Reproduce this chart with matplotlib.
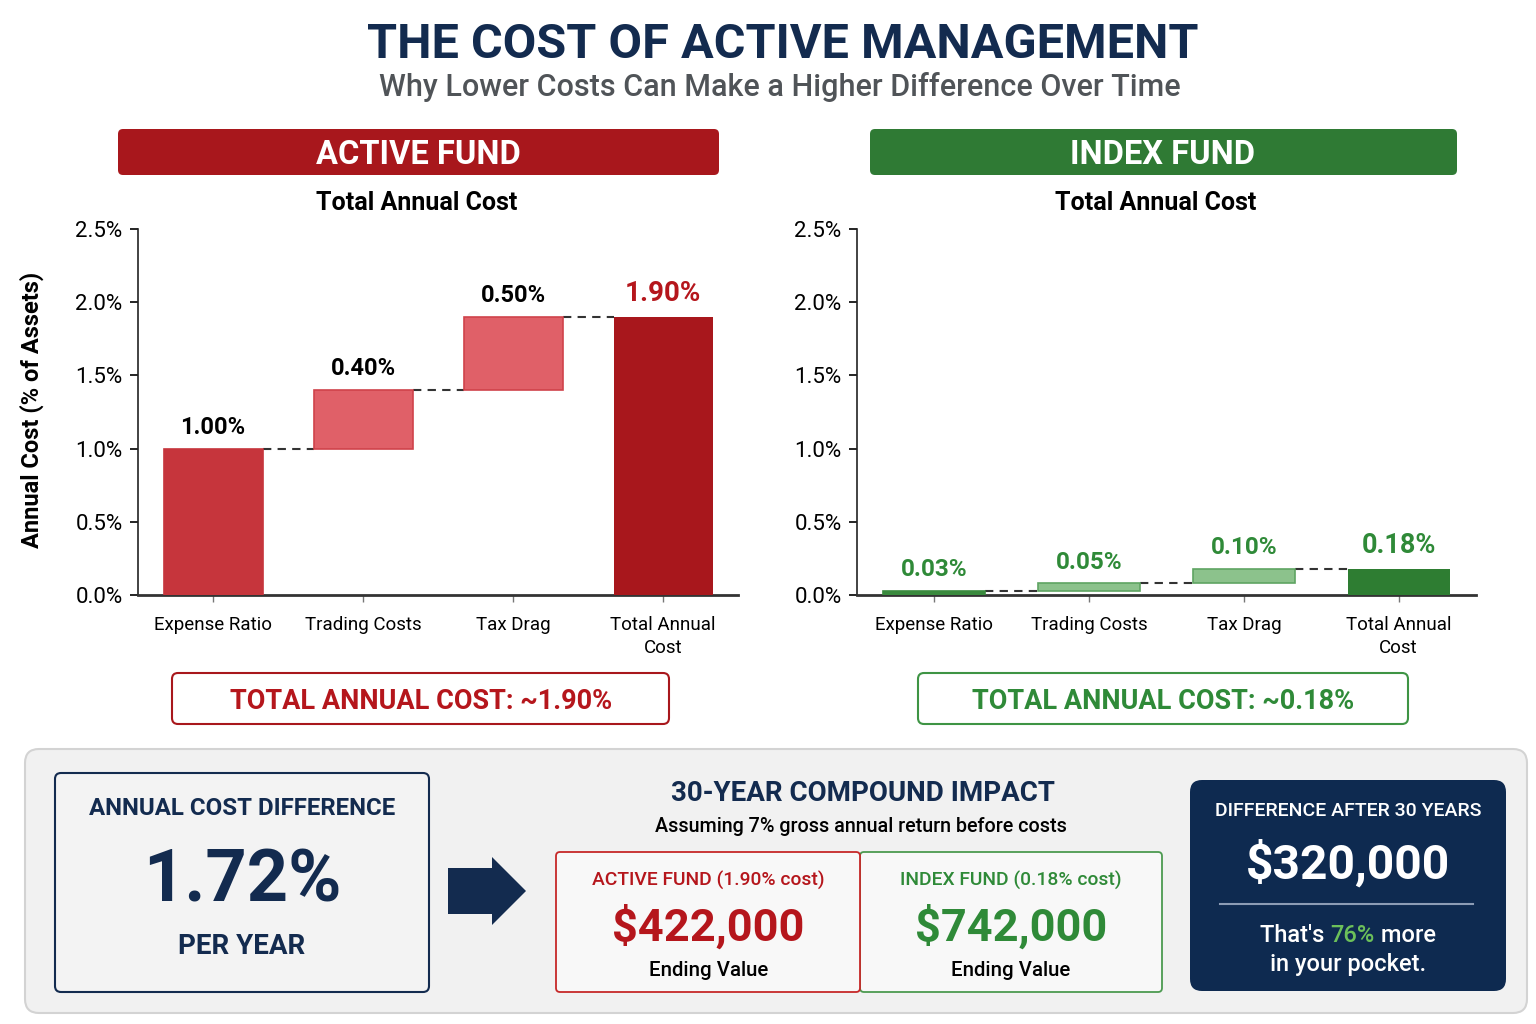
import numpy as np
import matplotlib.pyplot as plt
from matplotlib.patches import FancyBboxPatch, Polygon

plt.rcParams['font.family'] = ['Roboto', 'DejaVu Sans']

# data
categories = ["Expense Ratio", "Trading Costs", "Tax Drag", "Total Annual\nCost"]
active_steps = np.array([1.00, 0.40, 0.50])
active_total = 1.90
index_steps = np.array([0.03, 0.05, 0.10])
index_total = 0.18
yticks = [0.0, 0.5, 1.0, 1.5, 2.0, 2.5]
annual_diff = 1.72
active_end = 422000
index_end = 742000
gap_30y = 320000
pct_more = 76

NAVY = '#132B4F'
RED = '#A8171C'
RED_MID = '#C6353C'
RED_LIGHT = '#E06068'
GREEN = '#2E7D32'
GREEN_MID = '#3A8A3E'
GREEN_LIGHT = '#8CC28C'
GREEN_TXT = '#2F8A38'

W, H = 1536, 1024
fig = plt.figure(figsize=(W / 100, H / 100), dpi=100)
fig.patch.set_facecolor('white')

# overlay in pixel coordinates
bg = fig.add_axes([0, 0, 1, 1])
bg.set_xlim(0, W)
bg.set_ylim(H, 0)
bg.axis('off')


def box(x0, y0, x1, y1, fc, ec='none', lw=0, r=8):
    bg.add_patch(FancyBboxPatch((x0, y0), x1 - x0, y1 - y0,
                                boxstyle=f"round,pad=0,rounding_size={r}",
                                fc=fc, ec=ec, lw=lw))


def txt(x, y, s, size, color='black', weight='normal', **kw):
    return bg.text(x, y + 2.5, s, fontsize=size, color=color, fontweight=weight,
                   ha='center', va='center', **kw)


# title
txt(783, 42, "THE COST OF ACTIVE MANAGEMENT", 35, NAVY, 'bold')
txt(780, 85, "Why Lower Costs Can Make a Higher Difference Over Time", 22, '#505458', 'medium')

# headers
box(118, 129, 719, 175, RED, r=5)
txt(418, 152, "ACTIVE FUND", 23.5, 'white', 'bold')
box(870, 129, 1457, 175, '#2F7A34', r=5)
txt(1163, 152, "INDEX FUND", 23.5, 'white', 'bold')
txt(417, 201, "Total Annual Cost", 18, 'black', 'bold')
txt(1156, 201, "Total Annual Cost", 18, 'black', 'bold')


def waterfall(ax, steps, total, c_first, c_step, ec_step, c_total,
              lab_col, tot_col, lab_size, tot_size):
    x = np.arange(len(categories))
    bottoms = np.concatenate([[0], np.cumsum(steps)[:-1]])
    tops = bottoms + steps
    ax.bar(x[:3], steps, bottom=bottoms, width=0.66,
           color=[c_first, c_step, c_step],
           edgecolor=[c_first, ec_step, ec_step], lw=1.2, zorder=3)
    ax.bar(x[3], total, width=0.66, color=c_total, zorder=3)
    for i in range(3):
        ax.plot([x[i] + 0.33, x[i + 1] - 0.33], [tops[i], tops[i]],
                ls=(0, (4, 3)), color='#333333', lw=1.5, zorder=2)
        ax.annotate(f"{steps[i]:.2f}%", (x[i], tops[i]), xytext=(0, 7),
                    textcoords='offset points', ha='center', va='bottom',
                    fontsize=lab_size, fontweight='bold', color=lab_col)
    ax.annotate(f"{total:.2f}%", (x[3], total), xytext=(0, 7),
                textcoords='offset points', ha='center', va='bottom',
                fontsize=tot_size, fontweight='bold', color=tot_col)
    ax.set_xlim(-0.5, 3.5)
    ax.set_ylim(0, 2.5)
    ax.set_yticks(yticks)
    ax.set_yticklabels([f"{v:.1f}%" for v in yticks])
    ax.set_xticks(x)
    ax.set_xticklabels(categories, linespacing=1.35)
    ax.spines[['top', 'right']].set_visible(False)
    ax.spines['left'].set_linewidth(1.2)
    ax.spines['left'].set_color('#222222')
    ax.spines['bottom'].set_linewidth(2)
    ax.spines['bottom'].set_color('#333333')
    ax.tick_params(axis='y', length=6, width=1.2, labelsize=16, pad=5)
    ax.tick_params(axis='x', length=5, width=1, color='#777777',
                   labelsize=13.5, pad=10)
    ax.patch.set_alpha(0)


ax1 = fig.add_axes([138 / W, 1 - 595 / H, 600 / W, 366 / H])
waterfall(ax1, active_steps, active_total, RED_MID, RED_LIGHT, '#D0434B', RED,
          'black', '#B5161C', 17, 20)
ax1.set_ylabel("Annual Cost (% of Assets)", fontsize=17, fontweight='bold')
ax1.yaxis.set_label_coords(-0.157, 0.505)

ax2 = fig.add_axes([857 / W, 1 - 595 / H, 619 / W, 366 / H])
waterfall(ax2, index_steps, index_total, GREEN_MID, GREEN_LIGHT, '#5FA462', GREEN,
          GREEN_TXT, GREEN_TXT, 17.5, 19.5)

# total cost boxes
box(172, 673, 669, 724, 'white', RED, 1.5, r=6)
txt(421, 699, f"TOTAL ANNUAL COST: ~{active_total:.2f}%", 19.5, '#B5161C', 'bold')
box(918, 673, 1408, 724, 'white', '#3E9444', 1.5, r=6)
txt(1163, 699, f"TOTAL ANNUAL COST: ~{index_total:.2f}%", 19.5, GREEN_TXT, 'bold')

# bottom panel
box(25, 749, 1527, 1013, '#F1F1F1', '#D3D3D3', 1.5, r=14)
box(55, 773, 429, 992, '#F3F3F3', NAVY, 1.5, r=6)
txt(242, 806, "ANNUAL COST DIFFERENCE", 17.3, NAVY, 'bold')
txt(242, 880, f"{annual_diff:.2f}%", 52, NAVY, 'bold')
txt(242, 944, "PER YEAR", 20, NAVY, 'bold')

bg.add_patch(Polygon([(448, 868), (492, 868), (492, 857), (526, 891),
                      (492, 925), (492, 914), (448, 914)], closed=True,
                     fc=NAVY, ec='none'))

txt(863, 791, "30-YEAR COMPOUND IMPACT", 20, NAVY, 'bold')
txt(861, 824, "Assuming 7% gross annual return before costs", 14.2, 'black', 'medium')

box(860, 852, 1162, 992, '#F8F8F8', '#4C9A50', 1.3, r=4)
box(556, 852, 860, 992, '#F8F8F8', '#C62828', 1.3, r=4)
txt(708, 878, f"ACTIVE FUND ({active_total:.2f}% cost)", 13.9, '#B5161C', 'medium')
txt(708, 925, f"${active_end:,}", 32.5, '#B5161C', 'bold')
txt(709, 968, "Ending Value", 14.7, 'black', 'medium')
txt(1011, 878, f"INDEX FUND ({index_total:.2f}% cost)", 13.9, GREEN_TXT, 'medium')
txt(1011, 925, f"${index_end:,}", 32.5, GREEN_TXT, 'bold')
txt(1011, 968, "Ending Value", 14.7, 'black', 'medium')

box(1190, 780, 1506, 991, '#0E2A50', r=12)
txt(1348, 809, "DIFFERENCE AFTER 30 YEARS", 14, 'white', 'medium')
txt(1348, 862, f"${gap_30y:,}", 34.5, 'white', 'bold')
bg.plot([1220, 1473], [904, 904], color='#8C9CB5', lw=1.5)

# multi-coloured line
r = fig.canvas.get_renderer()
parts = [("That's ", 'white'), (f"{pct_more}%", '#6CC05A'), (" more", 'white')]
widths = []
for s, c in parts:
    t = bg.text(0, 0, s, fontsize=17, fontweight='medium')
    widths.append(t.get_window_extent(r).width)
    t.remove()
x0 = 1348 - sum(widths) / 2
for (s, c), w in zip(parts, widths):
    bg.text(x0, 935.5, s, fontsize=17, color=c, fontweight='medium',
            ha='left', va='center')
    x0 += w
txt(1348, 962, "in your pocket.", 17, 'white', 'medium')

fig.savefig("out.png", dpi=100)
